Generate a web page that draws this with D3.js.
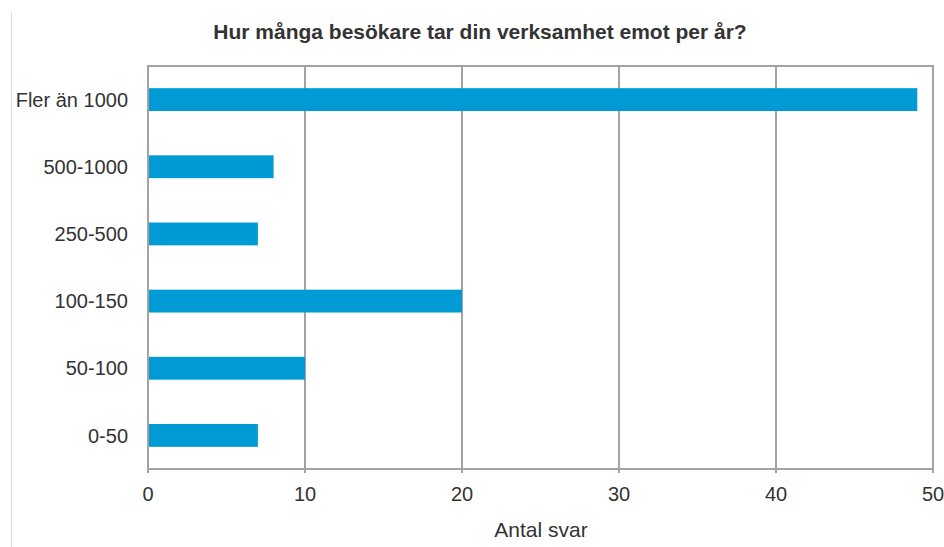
<!DOCTYPE html>
<html lang="sv">
<head>
<meta charset="utf-8">
<script src="https://d3js.org/d3.v7.min.js"></script>
<style>
  body { margin: 0; background: #fff; }
  text { font-family: "Liberation Sans", Arial, sans-serif; fill: #333; }
</style>
</head>
<body>
<script>
// data
const categories = ["Fler än 1000", "500-1000", "250-500", "100-150", "50-100", "0-50"];
const values = [49, 8, 7, 20, 10, 7];
const xTicks = [0, 10, 20, 30, 40, 50];
const title = "Hur många besökare tar din verksamhet emot per år?";
const xTitle = "Antal svar";

const W = 944, H = 547;
const plotLeft = 148, plotRight = 933, plotTop = 66, plotBottom = 469;

const svg = d3.select("body").append("svg")
    .attr("width", W).attr("height", H);

// faint frame line on the left edge
svg.append("line")
    .attr("x1", 11.5).attr("x2", 11.5).attr("y1", 12).attr("y2", H)
    .attr("stroke", "#ddd").attr("stroke-width", 1);

const x = d3.scaleLinear().domain([0, 50]).range([plotLeft, plotRight]);
const y = d3.scaleBand().domain(categories).range([plotTop, plotBottom]).paddingInner(0.66).paddingOuter(0.33);

// gridlines
svg.append("g").selectAll("line")
    .data(xTicks)
    .join("line")
    .attr("x1", d => x(d)).attr("x2", d => x(d))
    .attr("y1", plotTop).attr("y2", plotBottom + 4)
    .attr("stroke", "#a3a3a3").attr("stroke-width", 2);

// top and bottom border
svg.append("line")
    .attr("x1", plotLeft - 1).attr("x2", plotRight + 1).attr("y1", plotTop).attr("y2", plotTop)
    .attr("stroke", "#a3a3a3").attr("stroke-width", 2);
svg.append("line")
    .attr("x1", plotLeft - 1).attr("x2", plotRight + 1).attr("y1", plotBottom).attr("y2", plotBottom)
    .attr("stroke", "#a3a3a3").attr("stroke-width", 2);

// bars
svg.append("g").selectAll("rect")
    .data(values)
    .join("rect")
    .attr("x", x(0) + 1)
    .attr("y", (d, i) => y(categories[i]))
    .attr("width", d => x(d) - x(0) - 1)
    .attr("height", y.bandwidth())
    .attr("fill", "#009bd5");

// category labels
svg.append("g").selectAll("text")
    .data(categories)
    .join("text")
    .attr("x", 128)
    .attr("y", d => y(d) + y.bandwidth() / 2)
    .attr("dy", "0.36em")
    .attr("text-anchor", "end")
    .attr("font-size", 20)
    .text(d => d);

// x tick labels
svg.append("g").selectAll("text")
    .data(xTicks)
    .join("text")
    .attr("x", d => x(d))
    .attr("y", 501)
    .attr("text-anchor", "middle")
    .attr("font-size", 20)
    .text(d => d);

// axis title
svg.append("text")
    .attr("x", 541).attr("y", 537)
    .attr("text-anchor", "middle")
    .attr("font-size", 21)
    .text(xTitle);

// chart title
svg.append("text")
    .attr("x", 480).attr("y", 39)
    .attr("text-anchor", "middle")
    .attr("font-size", 21)
    .attr("font-weight", "bold")
    .attr("fill", "#222")
    .text(title);
</script>
</body>
</html>
